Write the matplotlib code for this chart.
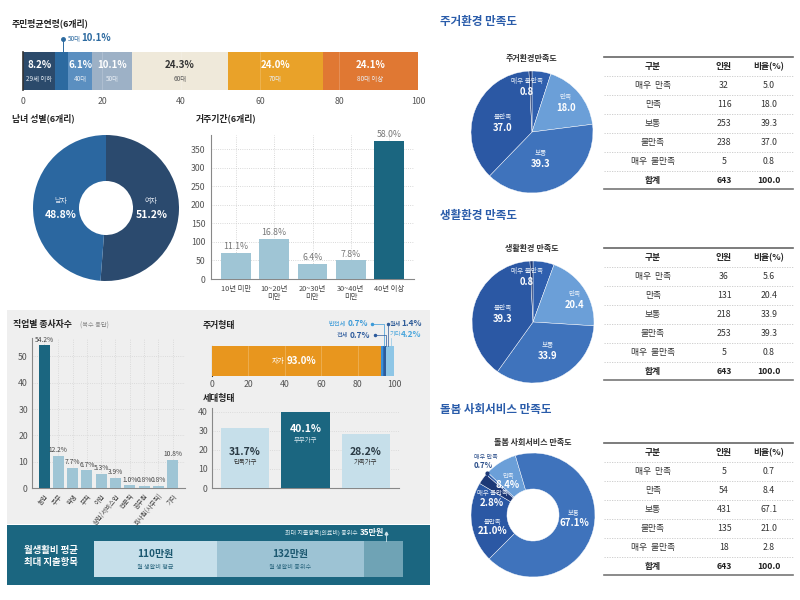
import matplotlib
matplotlib.use('Agg')
import matplotlib.pyplot as plt
from matplotlib.patches import Rectangle

plt.rcParams['font.family'] = ['Noto Sans CJK KR', 'DejaVu Sans']

# ---------------- data ----------------
age_groups = ['29세 이하', '30대', '40대', '50대', '60대', '70대', '80대 이상']
age_pct = [8.2, 3.2, 6.1, 10.1, 24.3, 24.0, 24.1]
age_colors = ['#2b4a6b', '#2c6aa0', '#5b8fc0', '#9db1c6', '#efe9da', '#e9a229', '#e07833']

sex_labels = ['여자', '남자']
sex_pct = [51.2, 48.8]

res_labels = ['10년 미만', '10~20년\n미만', '20~30년\n미만', '30~40년\n미만', '40년 이상']
res_counts = [71, 108, 41, 50, 373]
res_pct = [11.1, 16.8, 6.4, 7.8, 58.0]

job_labels = ['농업', '주부', '학생', '무직', '어업', '상업/서비스업', '전문직', '공무원', '회사원(사무직)', '기타']
job_pct = [54.2, 12.2, 7.7, 6.7, 5.3, 3.9, 1.0, 0.8, 0.8, 10.8]

house_labels = ['자가', '반전세', '전세', '월세', '기타']
house_pct = [93.0, 0.7, 0.7, 1.4, 4.2]

hh_labels = ['단독가구', '부부가구', '가족가구']
hh_pct = [31.7, 40.1, 28.2]

cost_labels = ['월 생활비 평균', '월 생활비 중위수', '최대 지출항목(의료비) 중위수']
cost_values = [110, 132, 35]

sat_labels = ['매우 만족', '만족', '보통', '불만족', '매우 불만족']
table_labels = ['매우  만족', '만족', '보통', '불만족', '매우  불만족']
env_counts = [32, 116, 253, 238, 5]
env_pct = [5.0, 18.0, 39.3, 37.0, 0.8]
life_counts = [36, 131, 218, 253, 5]
life_pct = [5.6, 20.4, 33.9, 39.3, 0.8]
care_counts = [5, 54, 431, 135, 18]
care_pct = [0.7, 8.4, 67.1, 21.0, 2.8]
total_count = 643
total_pct = 100.0

# ---------------- figure ----------------
W, H = 800, 600
fig = plt.figure(figsize=(8, 6), dpi=100)
fig.patch.set_facecolor('white')


def px_axes(x0, y0, w, h, **kw):
    return fig.add_axes([x0 / W, 1 - (y0 + h) / H, w / W, h / H], **kw)


bg = px_axes(0, 0, W, H, zorder=-5)
bg.set_xlim(0, W); bg.set_ylim(H, 0); bg.axis('off')
fg = px_axes(0, 0, W, H, zorder=20)
fg.set_xlim(0, W); fg.set_ylim(H, 0); fg.axis('off'); fg.patch.set_alpha(0)

bg.add_patch(Rectangle((7, 310), 423, 214, color='#efefef', lw=0))
bg.add_patch(Rectangle((7, 525), 423, 60, color='#1b6680', lw=0))


def T(x, y, s, size=7, color='#222', weight='normal', ha='center', va='center', ax=None):
    (ax or fg).text(x, y, s, fontsize=size, color=color, fontweight=weight, ha=ha, va=va)


TICKC = '#555'
TS = 6.4  # section title size

# ---------------- 주민평균연령 ----------------
T(12, 23, '주민평균연령(6개리)', TS, '#222', 'bold', ha='left')
ax = px_axes(23, 52, 395, 38)
left = 0
for i, (g, v) in enumerate(zip(age_groups, age_pct)):
    ax.barh(0, v, left=left, height=1, color=age_colors[i], lw=0)
    c = left + v / 2
    if i != 1:
        tc = '#333' if i == 4 else 'white'
        lc = '#555' if i == 4 else '#e8eef5'
        ax.text(c, 0.16, f'{v}%', ha='center', va='center', fontsize=7, fontweight='bold', color=tc)
        ax.text(c, -0.22, g, ha='center', va='center', fontsize=4.6, color=lc)
    left += v
ax.set_xlim(0, 100); ax.set_ylim(-0.5, 0.5)
ax.set_xticks(range(0, 101, 20))
ax.set_yticks([])
ax.tick_params(axis='x', length=0, labelsize=6.3, colors=TICKC, pad=5)
for x in range(20, 100, 20):
    ax.axvline(x, color='white', lw=0.5, alpha=0.25)
for s in ['top', 'right', 'bottom']:
    ax.spines[s].set_visible(False)
ax.spines['left'].set_color('#333'); ax.spines['left'].set_linewidth(1.2)
# annotation
fg.plot([63, 63], [39, 52], color='#2c6aa0', lw=0.7)
fg.plot([63], [39], 'o', color='#2c6aa0', ms=2.5)
T(68, 38.5, '50대', 4.6, '#2c6aa0', ha='left')
T(81, 38, '10.1%', 7, '#2c6aa0', 'bold', ha='left')

# ---------------- 남녀 성별 ----------------
T(12, 118, '남녀 성별(6개리)', TS, '#222', 'bold', ha='left')
ax = px_axes(33, 135, 146, 146)
ax.pie(sex_pct, colors=['#2b4a6e', '#2b67a0'], startangle=90, counterclock=False,
       radius=1, wedgeprops=dict(width=0.63, lw=0))
ax.set_xlim(-1, 1); ax.set_ylim(-1, 1)
ax.text(0.62, 0.09, sex_labels[0], ha='center', va='center', fontsize=5, color='#dfe6f0')
ax.text(0.62, -0.09, f'{sex_pct[0]}%', ha='center', va='center', fontsize=7.5, color='white', fontweight='bold')
ax.text(-0.62, 0.09, sex_labels[1], ha='center', va='center', fontsize=5, color='#dfe6f0')
ax.text(-0.62, -0.09, f'{sex_pct[1]}%', ha='center', va='center', fontsize=7.5, color='white', fontweight='bold')

# ---------------- 거주기간 ----------------
T(196, 118, '거주기간(6개리)', TS, '#222', 'bold', ha='left')
ax = px_axes(211, 135, 203, 144)
xs = range(len(res_counts))
cols = ['#9fc5d5'] * 4 + ['#1b6680']
ax.bar(xs, res_counts, width=0.78, color=cols, lw=0, zorder=3)
for x, c, p in zip(xs, res_counts, res_pct):
    ax.text(x, c + 4, f'{p}%', ha='center', va='bottom', fontsize=6.3, color='#777')
ax.set_xlim(-0.65, 4.65); ax.set_ylim(0, 388)
ax.set_yticks(range(0, 351, 50))
ax.set_xticks(list(xs)); ax.set_xticklabels(res_labels, fontsize=5.3, color='#444', linespacing=1.1)
ax.tick_params(axis='y', labelsize=6.3, colors=TICKC, length=0, pad=4)
ax.tick_params(axis='x', length=0, pad=4)
ax.grid(True, ls=':', color='#ccc', lw=0.6, zorder=0)
for s in ['top', 'right']:
    ax.spines[s].set_visible(False)
for s in ['left', 'bottom']:
    ax.spines[s].set_color('#888'); ax.spines[s].set_linewidth(0.8)
ax.set_facecolor('none')

# ---------------- 직업별 종사자수 ----------------
T(13, 325, '직업별 종사자수', TS, '#222', 'bold', ha='left')
T(80, 326, '(복수 응답)', 4.5, '#888', ha='left')
ax = px_axes(32, 338, 153, 150)
xs = range(len(job_pct))
cols = ['#1b6680'] + ['#9fc5d5'] * 9
ax.bar(xs, job_pct, width=0.77, color=cols, lw=0, zorder=3)
for x, v in zip(xs, job_pct):
    ax.text(x, v + 0.6, f'{v}%', ha='center', va='bottom', fontsize=4.8, color='#444')
ax.set_xlim(-0.84, 9.87); ax.set_ylim(0, 57)
ax.set_yticks(range(0, 51, 10))
ax.set_xticks(list(xs))
ax.set_xticklabels(job_labels, rotation=50, ha='right', rotation_mode='anchor', fontsize=4.6, color='#444')
ax.tick_params(axis='y', labelsize=6.3, colors=TICKC, length=0, pad=3)
ax.tick_params(axis='x', length=0, pad=3)
ax.grid(True, ls=':', color='#d4d4d4', lw=0.6, zorder=0)
for s in ['top', 'right']:
    ax.spines[s].set_visible(False)
for s in ['left', 'bottom']:
    ax.spines[s].set_color('#888'); ax.spines[s].set_linewidth(0.8)
ax.set_facecolor('none')

# ---------------- 주거형태 ----------------
T(203, 325, '주거형태', TS, '#222', 'bold', ha='left')
ax = px_axes(212, 346, 182, 30)
hcols = ['#e8961e', '#3b8fd6', '#2a6cb8', '#2f5c98', '#8ec6e6']
left = 0
for v, c in zip(house_pct, hcols):
    ax.barh(0, v, left=left, height=1, color=c, lw=0, zorder=3)
    left += v
ax.text(40, 0, house_labels[0], ha='right', va='center', fontsize=5, color='white')
ax.text(41, 0, f'{house_pct[0]}%', ha='left', va='center', fontsize=7, color='white', fontweight='bold')
ax.set_xlim(0, 100); ax.set_ylim(-0.5, 0.5)
ax.set_xticks(range(0, 101, 20)); ax.set_yticks([])
ax.tick_params(axis='x', labelsize=6.3, colors=TICKC, length=0, pad=3)
for x in range(20, 100, 20):
    ax.axvline(x, color='white', lw=0.5, alpha=0.3, zorder=4)
for s in ['top', 'right', 'bottom']:
    ax.spines[s].set_visible(False)
ax.spines['left'].set_color('#333')
ax.set_facecolor('none')
# annotations
T(346, 324, house_labels[1], 4.5, '#3b9ad8', ha='right')
T(348, 324, f'{house_pct[1]}%', 6, '#3b9ad8', 'bold', ha='left')
T(348, 335, house_labels[2], 4.5, '#2c5a9c', ha='right')
T(350, 335, f'{house_pct[2]}%', 6, '#2c5a9c', 'bold', ha='left')
fg.plot([372, 384, 384], [324, 324, 346], color='#3b9ad8', lw=0.5)
fg.plot([372], [324], 'o', color='#3b9ad8', ms=1.5)
fg.plot([375, 386, 386], [335, 335, 346], color='#2c5a9c', lw=0.5)
fg.plot([375], [335], 'o', color='#2c5a9c', ms=1.5)
T(390, 324, house_labels[3], 4.5, '#2f5c98', ha='left')
T(401, 324, f'{house_pct[3]}%', 6, '#2f5c98', 'bold', ha='left')
fg.plot([388, 388], [324, 346], color='#2f5c98', lw=0.5)
fg.plot([388], [324], 'o', color='#2f5c98', ms=1.5)
T(390, 334.5, house_labels[4], 4.5, '#4aa6dc', ha='left')
T(401, 334.5, f'{house_pct[4]}%', 6, '#4aa6dc', 'bold', ha='left')
fg.plot([391, 391], [338, 346], color='#8ec6e6', lw=0.5)

# ---------------- 세대형태 ----------------
T(203, 398, '세대형태', TS, '#222', 'bold', ha='left')
ax = px_axes(212, 408, 187, 80)
cols = ['#c6dfea', '#1b6680', '#c6dfea']
ax.bar(range(3), hh_pct, width=0.8, color=cols, lw=0, zorder=3)
ypos = [(19, 13.5), (31, 25), (19, 13.5)]
for i, (l, v) in enumerate(zip(hh_labels, hh_pct)):
    tc = 'white' if i == 1 else '#2a3a44'
    lc = '#d6e6ee' if i == 1 else '#333'
    ax.text(i, ypos[i][0], f'{v}%', ha='center', va='center', fontsize=7.5, fontweight='bold', color=tc, zorder=5)
    ax.text(i, ypos[i][1], l, ha='center', va='center', fontsize=4.6, color=lc, zorder=5)
ax.set_xlim(-0.55, 2.55); ax.set_ylim(0, 42)
ax.set_yticks(range(0, 41, 10)); ax.set_xticks([])
ax.tick_params(axis='y', labelsize=6.3, colors=TICKC, length=0, pad=3)
ax.grid(True, axis='y', ls=':', color='#d4d4d4', lw=0.6, zorder=0)
for s in ['top', 'right']:
    ax.spines[s].set_visible(False)
for s in ['left', 'bottom']:
    ax.spines[s].set_color('#888'); ax.spines[s].set_linewidth(0.8)
ax.set_facecolor('none')

# ---------------- 월생활비 ----------------
T(51, 556, '월생활비 평균\n최대 지출항목', 6.8, 'white', 'bold')
ax = px_axes(94, 541, 309, 36)
ccols = ['#c6dfea', '#9dc3d4', '#6fa3b5']
left = 0
for v, c in zip(cost_values, ccols):
    ax.barh(0, v, left=left, height=1, color=c, lw=0)
    left += v
for i in range(2):
    c = sum(cost_values[:i]) + cost_values[i] / 2
    ax.text(c, 0.15, f'{cost_values[i]}만원', ha='center', va='center', fontsize=7.2, fontweight='bold', color='#1c5870')
    ax.text(c, -0.22, cost_labels[i], ha='center', va='center', fontsize=4.4, color='#2c6880')
ax.set_xlim(0, sum(cost_values)); ax.set_ylim(-0.5, 0.5)
ax.axis('off')
T(358, 533, cost_labels[2], 4.3, '#dfeef3', ha='right')
T(360, 533, f'{cost_values[2]}만원', 5.8, 'white', 'bold', ha='left')
fg.plot([386, 386], [533, 541], color='#cfe3ea', lw=0.6)
fg.plot([386], [533], marker='^', color='#cfe3ea', ms=2)

# ---------------- right column: pies + tables ----------------
pie_cols = ['#2f5fae', '#6b9fd8', '#3f73bc', '#2b58a4', '#1c3876']
BLUE = '#2a5caa'


def table(y_top, counts, pcts):
    xl, xr = 604, 793
    cx = [653, 724, 769]
    rh = 19
    fg.plot([xl, xr], [y_top, y_top], color='#666', lw=1.2)
    yh = y_top + rh / 2
    for x, s in zip(cx, ['구분', '인원', '비율(%)']):
        T(x, yh, s, 6.3, '#222', 'bold')
    for i in range(5):
        ysep = y_top + rh * (i + 1)
        fg.plot([xl, xr], [ysep, ysep], color='#c8c8c8', lw=0.6, ls=(0, (1.5, 1.5)))
        yc = ysep + rh / 2
        T(cx[0], yc, table_labels[i], 6.3, '#333')
        T(cx[1], yc, f'{counts[i]}', 6.3, '#333')
        T(cx[2], yc, f'{pcts[i]:.1f}', 6.3, '#333')
    ysep = y_top + rh * 6
    fg.plot([xl, xr], [ysep, ysep], color='#c8c8c8', lw=0.6, ls=(0, (1.5, 1.5)))
    yc = ysep + rh / 2
    T(cx[0], yc, '합계', 6.3, '#222', 'bold')
    T(cx[1], yc, f'{total_count}', 6.3, '#222', 'bold')
    T(cx[2], yc, f'{total_pct:.1f}', 6.3, '#222', 'bold')
    yb = y_top + rh * 7 - 1
    fg.plot([xl, xr], [yb, yb], color='#777', lw=1.2)


def pie(cx, cy, r, pcts, start, width=None):
    ax = px_axes(cx - r, cy - r, 2 * r, 2 * r)
    wp = dict(lw=0.3, edgecolor='white')
    if width:
        wp['width'] = width
    ax.pie(pcts, colors=pie_cols, startangle=start, counterclock=False, radius=1, wedgeprops=wp)
    ax.set_xlim(-1, 1); ax.set_ylim(-1, 1)
    return ax


RT = 8.3
# 주거환경
T(440, 22, '주거환경 만족도', RT, BLUE, 'bold', ha='left')
T(531, 58, '주거환경만족도', 5.8, '#333', 'bold')
pie(532, 132, 61, env_pct, 90)
for (x, y, l, v) in [(527, 81, sat_labels[4], env_pct[4]), (566, 97, sat_labels[1], env_pct[1]),
                     (503, 117, sat_labels[3], env_pct[3]), (541, 153, sat_labels[2], env_pct[2])]:
    T(x, y, l, 4.8, '#e6eef8')
    T(x, y + 11, f'{v}', 6.8, 'white', 'bold')
table(57, env_counts, env_pct)

# 생활환경
T(440, 215, '생활환경 만족도', RT, BLUE, 'bold', ha='left')
T(532, 248, '생활환경 만족도', 5.8, '#333', 'bold')
pie(533, 322, 61, life_pct, 90)
for (x, y, l, v) in [(527, 271, sat_labels[4], life_pct[4]), (575, 294, sat_labels[1], life_pct[1]),
                     (503, 308, sat_labels[3], life_pct[3]), (548, 345, sat_labels[2], life_pct[2])]:
    T(x, y, l, 4.8, '#e6eef8')
    T(x, y + 11, f'{v}', 6.8, 'white', 'bold')
table(248, life_counts, life_pct)

# 돌봄 사회서비스
T(440, 410, '돌봄 사회서비스 만족도', RT, BLUE, 'bold', ha='left')
T(533, 442, '돌봄 사회서비스 만족도', 5.8, '#333', 'bold')
pie(533, 515, 62, care_pct, 139.3, width=0.58)
for (x, y, l, v) in [(574, 513, sat_labels[2], care_pct[2]), (493, 522, sat_labels[3], care_pct[3]),
                     (492, 493, sat_labels[4], care_pct[4]), (508, 476, sat_labels[1], care_pct[1])]:
    T(x, y, l, 4.6, '#e6eef8')
    T(x, y + 9.5, f'{v}%', 7, 'white', 'bold')
T(474, 457, sat_labels[0], 4.4, '#2c4f8a', ha='left')
T(474, 466, f'{care_pct[0]}%', 5.6, '#2c4f8a', 'bold', ha='left')
fg.plot([487, 487], [473, 480], color='#1c3876', lw=0.6)
fg.plot([487], [473], 'o', color='#1c3876', ms=2)
table(443, care_counts, care_pct)

fig.savefig('out.png', dpi=100, facecolor='white')
